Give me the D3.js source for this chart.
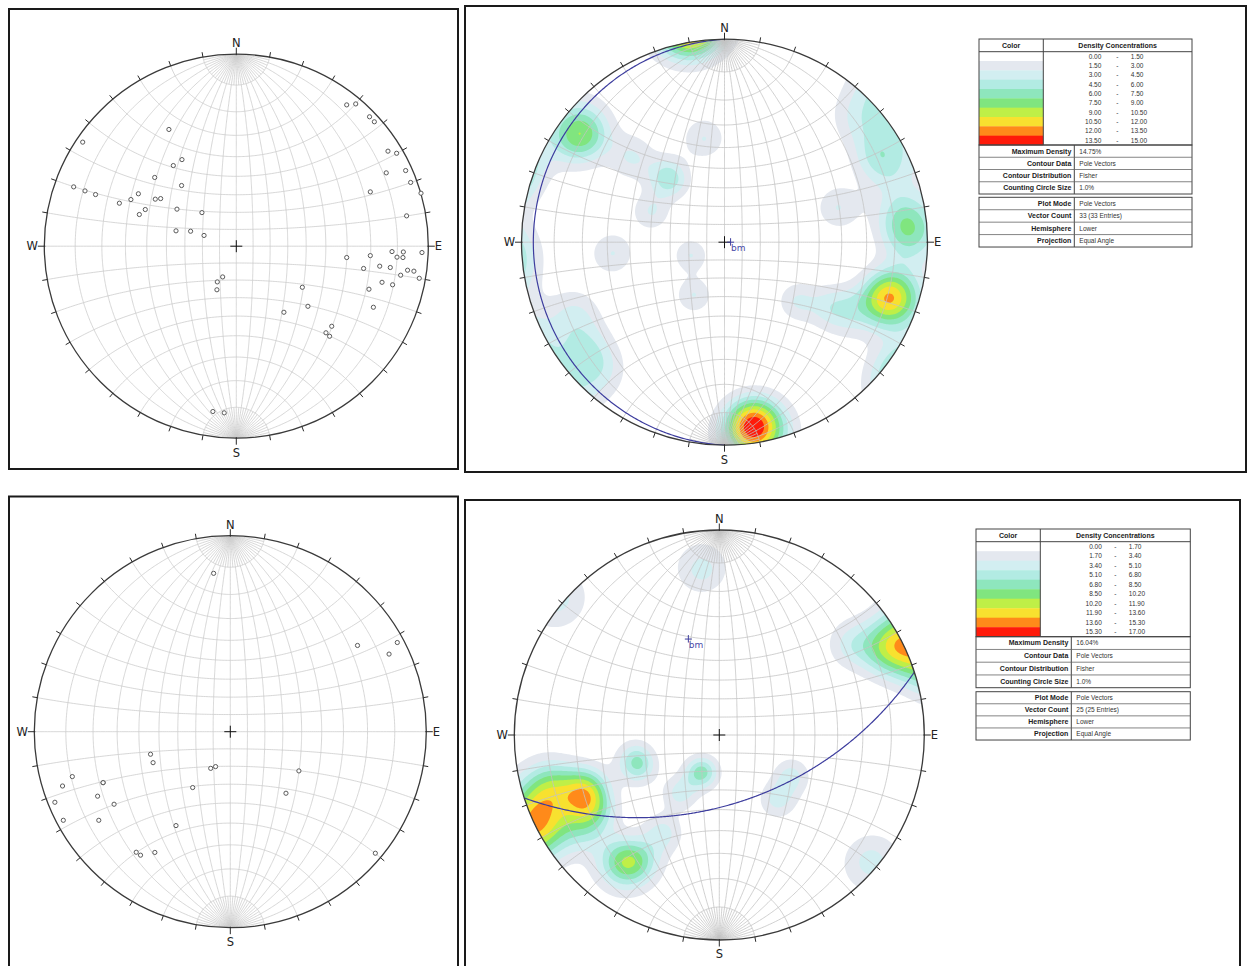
<!DOCTYPE html>
<html><head><meta charset="utf-8">
<script src="https://cdn.jsdelivr.net/npm/d3@7"></script>
<style>body{margin:0;background:#fff;} svg{display:block;}</style>
</head><body>
<svg id="c" width="1249" height="966"></svg>
<script>
// ================= DATA (positions in net units: [east, north], primitive radius = 1) =================
const polesTopLeft = [
[0.575,0.736],[0.622,0.741],[0.694,0.674],[0.719,0.648],[-0.351,0.608],[-0.800,0.542],[0.790,0.495],[0.835,0.484],
[-0.283,0.451],[-0.328,0.420],[0.882,0.394],[0.781,0.382],[-0.425,0.358],[0.908,0.332],[-0.285,0.316],[-0.847,0.309],
[-0.788,0.288],[0.698,0.283],[0.962,0.276],[-0.733,0.269],[-0.510,0.273],[-0.549,0.243],[-0.422,0.245],[-0.394,0.248],
[-0.609,0.224],[-0.309,0.193],[-0.474,0.191],[-0.179,0.175],[-0.505,0.165],[0.887,0.158],[-0.314,0.080],[-0.238,0.078],
[-0.168,0.056],[0.811,-0.028],[0.870,-0.030],[0.967,-0.033],[0.575,-0.059],[0.698,-0.049],[0.837,-0.057],[0.868,-0.059],
[0.747,-0.104],[0.802,-0.111],[0.663,-0.116],[0.892,-0.125],[0.925,-0.130],[0.856,-0.151],[0.953,-0.167],[-0.071,-0.160],
[-0.099,-0.186],[0.759,-0.188],[0.814,-0.201],[-0.101,-0.227],[0.344,-0.214],[0.691,-0.224],[0.373,-0.313],[0.714,-0.318],
[0.248,-0.344],[0.497,-0.417],[0.467,-0.451],[0.486,-0.469],[-0.122,-0.861],[-0.063,-0.868]
];
// bottom set (25 entries, one pole duplicated) – plotted bottom-left and contoured bottom-right
const polesBottom = [
[-0.085,0.808],[0.649,0.440],[0.852,0.455],[0.810,0.396],[-0.407,-0.115],[-0.394,-0.158],[-0.100,-0.187],[-0.075,-0.178],
[-0.806,-0.229],[-0.856,-0.277],[-0.649,-0.260],[-0.649,-0.260],[0.350,-0.200],[-0.192,-0.285],[-0.677,-0.329],[-0.895,-0.360],
[-0.593,-0.370],[0.284,-0.314],[-0.852,-0.452],[-0.671,-0.452],[-0.277,-0.479],[-0.480,-0.615],[-0.458,-0.630],[-0.385,-0.616],
[0.740,-0.620]
];
// top density set (33 entries), estimated from the contour picture
const polesTopDensity = [
[0.14,-0.905],[0.15,-0.915],[0.135,-0.915],[0.155,-0.90],[0.145,-0.91],
[-0.715,0.535],[-0.725,0.52],[-0.70,0.55],
[0.92,0.06],[0.905,0.03],[0.87,0.15],
[0.82,-0.27],[0.835,-0.28],[0.81,-0.285],[0.80,-0.26],
[0.36,-0.29],[0.52,-0.32],[0.63,-0.34],
[0.67,0.62],[0.755,0.45],[0.80,0.38],
[-0.10,0.51],[0.56,0.17],[-0.55,-0.055],[-0.165,-0.065],[-0.15,-0.26],
[-0.46,0.42],[-0.29,0.33],[-0.26,0.30],[-0.36,0.15],
[-0.68,-0.52],[-0.63,-0.63],[-0.74,-0.36]
];
const meanPoleTop = [0.03, 0.0];
const meanPoleBottom = [-0.151, 0.468];
const meanLabel = "bm";
const cardinals = [["N",0],["E",90],["S",180],["W",270]];
const thresholdsTop = [0,1.5,3,4.5,6,7.5,9,10.5,12,13.5,15];
const thresholdsBottom = [0,1.7,3.4,5.1,6.8,8.5,10.2,11.9,13.6,15.3,17];
const bandColors = ["#ffffff","#e4e8ef","#d2eef1","#b2ebe3","#8ee6bd","#80e57f","#bfef47","#f8e12f","#ff8a1a","#ff1a0a"];
const infoLabels = ["Maximum Density","Contour Data","Contour Distribution","Counting Circle Size"];
const infoTop = ["14.75%","Pole Vectors","Fisher","1.0%"];
const infoBottom = ["16.04%","Pole Vectors","Fisher","1.0%"];
const modeLabels = ["Plot Mode","Vector Count","Hemisphere","Projection"];
const modeTop = ["Pole Vectors","33 (33 Entries)","Lower","Equal Angle"];
const modeBottom = ["Pole Vectors","25 (25 Entries)","Lower","Equal Angle"];

// ================= GEOMETRY HELPERS =================
const rad = Math.PI/180;
function toVec(u,v){const r2=u*u+v*v;return [2*u/(1+r2),2*v/(1+r2),(1-r2)/(1+r2)];}
function proj(p){const d=1+p[2];return [p[0]/d,p[1]/d];}
function sph(lam,phi){const L=lam*rad,P=phi*rad;return proj([Math.cos(P)*Math.sin(L),Math.sin(P),Math.cos(P)*Math.cos(L)]);}
function greatCircle(pole){
  const P=toVec(pole[0],pole[1]);
  let a=[P[1],-P[0],0];const la=Math.hypot(a[0],a[1]);a=[a[0]/la,a[1]/la,0];
  let b=[P[1]*a[2]-P[2]*a[1],P[2]*a[0]-P[0]*a[2],P[0]*a[1]-P[1]*a[0]];
  if(b[2]<0)b=b.map(x=>-x);
  return d3.range(0,180.01,0.5).map(t=>{const T=t*rad,c=Math.cos(T),s=Math.sin(T);
    return proj([c*a[0]+s*b[0],c*a[1]+s*b[1],Math.max(0,c*a[2]+s*b[2])]);});
}

const svg=d3.select("#c");
let clipId=0;

function drawNet(cfg){
  const {frame,cx,cy,R}=cfg;
  svg.append("rect").attr("x",frame[0]).attr("y",frame[1]).attr("width",frame[2]).attr("height",frame[3])
     .attr("fill","#fff").attr("stroke","#1a1a1a").attr("stroke-width",2);
  const xs=d3.scaleLinear().domain([-1,1]).range([cx-R,cx+R]);
  const ys=d3.scaleLinear().domain([-1,1]).range([cy+R,cy-R]);
  const id="clip"+(clipId++);
  svg.append("clipPath").attr("id",id).append("circle").attr("cx",cx).attr("cy",cy).attr("r",R);
  const g=svg.append("g");
  const inner=g.append("g").attr("clip-path",`url(#${id})`);

  // density contours (Fisher kernel, axial)
  if(cfg.density){
    const poles=cfg.density.poles, thr=cfg.density.thr, kap=cfg.density.kappa;
    const n=260, L=1.06, step=2*L/n, w=100/poles.length;
    const pv=poles.map(p=>toVec(p[0],p[1]));
    const vals=new Float64Array(n*n);
    for(let j=0;j<n;j++){const v=L-(j+0.5)*step;
      for(let i=0;i<n;i++){const u=-L+(i+0.5)*step;const q=toVec(u,v);let s=0;
        for(const p of pv){const d=Math.abs(q[0]*p[0]+q[1]*p[1]+q[2]*p[2]);s+=Math.exp(kap*(d-1));}
        vals[j*n+i]=w*s;}}
    const contours=d3.contours().size([n,n]).thresholds(thr.slice(1,10))(vals);
    const tf=d3.geoTransform({point(x,y){this.stream.point(xs(-L+x*step),ys(L-y*step));}});
    const path=d3.geoPath(tf);
    inner.selectAll("path.dens").data(contours).join("path").attr("class","dens")
      .attr("d",path).attr("fill",(d,i)=>bandColors[i+1]).attr("stroke","none");
  }

  // Wulff net grid
  const line=d3.line().x(d=>xs(d[0])).y(d=>ys(d[1]));
  const gridLines=[];
  d3.range(-80,81,10).forEach(lam=>gridLines.push(d3.range(-90,90.01,0.5).map(phi=>sph(lam,phi))));
  d3.range(-80,81,10).forEach(phi=>gridLines.push(d3.range(-90,90.01,1).map(lam=>sph(lam,phi))));
  d3.range(-85,86,5).filter(l=>l%10!==0).forEach(lam=>{
    gridLines.push(d3.range(80,90.01,0.5).map(phi=>sph(lam,phi)));
    gridLines.push(d3.range(-90,-79.99,0.5).map(phi=>sph(lam,phi)));
  });
  inner.selectAll("path.grid").data(gridLines).join("path").attr("class","grid")
    .attr("d",line).attr("fill","none").attr("stroke",cfg.density?"#c4c4c4":"#cdcdcd").attr("stroke-width",0.8);

  // primitive
  g.append("circle").attr("cx",cx).attr("cy",cy).attr("r",R).attr("fill","none").attr("stroke","#3a3a3a").attr("stroke-width",1.3);
  // ticks
  d3.range(0,360,10).forEach(az=>{
    const card=az%90===0, s=Math.sin(az*rad), c=Math.cos(az*rad);
    const r0=card?R-1:R, r1=card?R+6.5:R+5;
    g.append("line").attr("x1",cx+r0*s).attr("y1",cy-r0*c).attr("x2",cx+r1*s).attr("y2",cy-r1*c)
      .attr("stroke","#2a2a2a").attr("stroke-width",1);
  });
  // cardinal labels
  cardinals.forEach(([lab,az])=>{
    const t=g.append("text").text(lab).attr("font-family","DejaVu Sans, Verdana, sans-serif").attr("font-size",11.5).attr("fill","#222");
    if(az===0) t.attr("x",cx).attr("y",cy-R-6.8).attr("text-anchor","middle");
    if(az===180) t.attr("x",cx).attr("y",cy+R+18.3).attr("text-anchor","middle");
    if(az===90) t.attr("x",cx+R+6.5).attr("y",cy+4.2).attr("text-anchor","start");
    if(az===270) t.attr("x",cx-R-6.5).attr("y",cy+4.2).attr("text-anchor","end");
  });
  // centre cross
  g.append("line").attr("x1",cx-6).attr("x2",cx+6).attr("y1",cy).attr("y2",cy).attr("stroke","#111");
  g.append("line").attr("x1",cx).attr("x2",cx).attr("y1",cy-6).attr("y2",cy+6).attr("stroke","#111");

  // poles
  if(cfg.poles){
    g.selectAll("circle.pole").data(cfg.poles).join("circle").attr("class","pole")
      .attr("cx",d=>xs(d[0])).attr("cy",d=>ys(d[1])).attr("r",2.1)
      .attr("fill","#fff").attr("stroke","#5a5a5a").attr("stroke-width",1);
  }
  // mean plane + pole
  if(cfg.mean){
    inner.append("path").attr("d",line(greatCircle(cfg.mean))).attr("fill","none").attr("stroke","#3d3d9e").attr("stroke-width",1.2);
    const bx=xs(cfg.mean[0]), by=ys(cfg.mean[1]);
    g.append("line").attr("x1",bx-3.5).attr("x2",bx+3.5).attr("y1",by).attr("y2",by).attr("stroke","#3d3d9e");
    g.append("line").attr("x1",bx).attr("x2",bx).attr("y1",by-4).attr("y2",by+3.5).attr("stroke","#3d3d9e");
    g.append("text").text(meanLabel).attr("x",bx+0.5).attr("y",by+8.5).attr("font-family","DejaVu Sans, Verdana, sans-serif")
      .attr("font-size",9).attr("fill","#4a4aa8");
  }
}

function drawLegend(L){
  const g=svg.append("g");
  const stroke="#444";
  const colorsBottom=L.hb+10*L.rh;
  g.selectAll("rect.band").data(bandColors).join("rect").attr("class","band")
    .attr("x",L.x0).attr("y",(d,i)=>L.hb+i*L.rh).attr("width",L.cs-L.x0).attr("height",L.rh+0.3).attr("fill",d=>d);
  g.append("rect").attr("x",L.x0).attr("y",L.y0).attr("width",L.x1-L.x0).attr("height",colorsBottom-L.y0).attr("fill","none").attr("stroke",stroke);
  g.append("line").attr("x1",L.x0).attr("x2",L.x1).attr("y1",L.hb).attr("y2",L.hb).attr("stroke",stroke);
  g.append("line").attr("x1",L.cs).attr("x2",L.cs).attr("y1",L.y0).attr("y2",colorsBottom).attr("stroke",stroke);
  const bold={"font-family":"Liberation Sans, Arial, sans-serif","font-size":7,"font-weight":"bold","fill":"#222"};
  const reg={"font-family":"Liberation Sans, Arial, sans-serif","font-size":6.5,"fill":"#333"};
  function txt(s,x,y,st,anchor){const t=g.append("text").text(s).attr("x",x).attr("y",y).attr("text-anchor",anchor||"start");
    for(const k in st)t.attr(k,st[k]);return t;}
  txt("Color",(L.x0+L.cs)/2,L.hb-3.8,bold,"middle");
  txt("Density Concentrations",(L.cs+L.x1)/2,L.hb-3.8,bold,"middle");
  for(let i=0;i<10;i++){
    const y=L.hb+(i+0.5)*L.rh+2.3;
    txt(L.thr[i].toFixed(2),L.cs+L.a1,y,reg,"end");
    txt("-",L.cs+L.a2,y,reg,"middle");
    txt(L.thr[i+1].toFixed(2),L.cs+L.a3,y,reg,"start");
  }
  function infoBox(y0,rh,labels,values){
    g.append("rect").attr("x",L.x0).attr("y",y0).attr("width",L.x1-L.x0).attr("height",4*rh).attr("fill","none").attr("stroke",stroke);
    g.append("line").attr("x1",L.is).attr("x2",L.is).attr("y1",y0).attr("y2",y0+4*rh).attr("stroke",stroke);
    for(let i=0;i<4;i++){
      if(i>0)g.append("line").attr("x1",L.x0).attr("x2",L.x1).attr("y1",y0+i*rh).attr("y2",y0+i*rh).attr("stroke","#666").attr("stroke-width",0.8);
      const y=y0+(i+0.5)*rh+2.4;
      txt(labels[i],L.is-3,y,bold,"end");
      txt(values[i],L.is+5,y,reg,"start");
    }
  }
  infoBox(colorsBottom,L.irh,infoLabels,L.info);
  infoBox(L.b2,L.b2rh,modeLabels,L.mode);
}

// ================= LAYOUT =================
drawNet({frame:[9,9,449,460],cx:236.3,cy:246.2,R:192,poles:polesTopLeft});
drawNet({frame:[9,496.5,449,480],cx:230.3,cy:731.7,R:196,poles:polesBottom});
drawNet({frame:[465,6,781,466],cx:724.5,cy:242.2,R:203,density:{poles:polesTopDensity,thr:thresholdsTop,kappa:78},mean:meanPoleTop});
drawNet({frame:[465,500,775,480],cx:719.3,cy:735,R:205,density:{poles:polesBottom,thr:thresholdsBottom,kappa:88},mean:meanPoleBottom});

drawLegend({x0:979,x1:1192,cs:1043.3,y0:39,hb:51.7,rh:9.33,irh:12.25,is:1074.3,b2:197.3,b2rh:12.43,
  a1:58,a2:74,a3:87.5,thr:thresholdsTop,info:infoTop,mode:modeTop});
drawLegend({x0:976,x1:1190.3,cs:1040.3,y0:529,hb:541.7,rh:9.5,irh:12.75,is:1071.3,b2:691.7,b2rh:12.08,
  a1:61.5,a2:75,a3:88.5,thr:thresholdsBottom,info:infoBottom,mode:modeBottom});
</script>
</body></html>
